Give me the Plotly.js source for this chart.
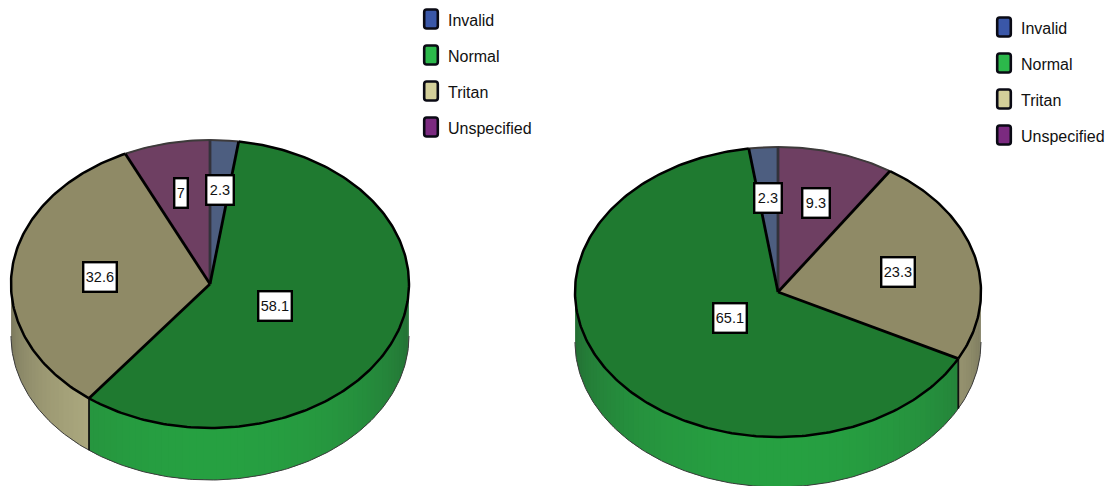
<!DOCTYPE html>
<html>
<head>
<meta charset="utf-8">
<script src="https://cdn.plot.ly/plotly-3.0.1.min.js"></script>
<style>html,body{margin:0;padding:0;background:#fff}#chart{width:1112px;height:486px}</style>
</head>
<body>
<div id="chart"></div>
<script>
// Category data
const categories = ['Invalid', 'Normal', 'Tritan', 'Unspecified'];
const leftValues = [2.3, 58.1, 32.6, 7];
const rightValues = [2.3, 65.1, 23.3, 9.3];
const valueLabels = {left: ['2.3', '58.1', '32.6', '7'], right: ['2.3', '65.1', '23.3', '9.3']};

// Palette
const swatchColors = [[58, 87, 168], [44, 184, 75], [211, 207, 154], [123, 42, 128]];
const faceColors = ['#4d5e80', '#1f7a30', '#8f8a66', '#6e3f62'];

// Tilted-disc geometry, in page pixels
const leftDisc = {cx: 210, cy: 284, rx: 199, ry: 144, depth: 52, dir: 1};
const rightDisc = {cx: 778, cy: 292, rx: 203, ry: 145, depth: 50, dir: -1};
const leftLegend = {x: 423, y: 19};
const rightLegend = {x: 996, y: 27};
const legendStep = 36;

const traces = [];
const shapes = [];
const annotations = [];
const font = 'Liberation Sans, Arial, sans-serif';

function rim(d, deg, drop) {
  const a = deg * Math.PI / 180;
  return [d.cx + d.rx * Math.sin(a), d.cy - d.ry * Math.cos(a) + (drop || 0)];
}

function arc(d, from, to, drop) {
  const n = Math.max(2, Math.ceil(Math.abs(to - from)));
  const pts = [];
  for (let i = 0; i <= n; i++) pts.push(rim(d, from + (to - from) * i / n, drop));
  return pts;
}

function addPath(pts, style) {
  traces.push(Object.assign({
    x: pts.map(p => p[0]), y: pts.map(p => p[1]),
    type: 'scatter', mode: 'lines', hoverinfo: 'skip', showlegend: false
  }, style));
}

// Side colour darkens towards the silhouette edges of the disc
function wallColor(cat, deg) {
  const c = Math.max(0, -Math.cos(deg * Math.PI / 180));
  const shade = 0.55 + 0.32 * Math.pow(c, 0.8);
  const grey = (1 - c) * 0.12;
  const rgb = swatchColors[cat].map(v => Math.round(v * shade * (1 - grey) + 110 * grey));
  return 'rgb(' + rgb.join(',') + ')';
}

function drawDisc(d, values, labels) {
  // Slice spans, measured in degrees from twelve o'clock, in screen-clockwise terms
  let cum = 0;
  const spans = values.map(v => {
    const a = cum * 3.6 * d.dir;
    cum += v;
    const b = cum * 3.6 * d.dir;
    return {from: a, to: b};
  });
  const norm = v => ((v % 360) + 360) % 360;

  // Side wall: narrow overlapping bands over the front half of the disc
  const step = 2;
  spans.forEach((s, cat) => {
    const lo = norm(Math.min(s.from, s.to));
    const hi = lo + Math.abs(s.to - s.from);
    const start = Math.max(lo, 90);
    const end = Math.min(hi, 270);
    for (let t = start; t < end; t += step) {
      const t2 = Math.min(t + step * 1.6, end);
      const top = arc(d, t, t2, 0);
      const bottom = arc(d, t2, t, d.depth);
      const col = wallColor(cat, (t + t2) / 2);
      addPath(top.concat(bottom, [top[0]]), {fill: 'toself', fillcolor: col, line: {width: 0}});
    }
  });
  addPath(arc(d, 90, 270, d.depth), {line: {color: '#3c3c3c', width: 1}});

  // Seams where a slice boundary crosses the front of the wall
  spans.forEach(s => {
    const t = norm(s.from);
    if (t > 90 && t < 270) {
      addPath([rim(d, t, 0), rim(d, t, d.depth)], {line: {color: '#111', width: 1.8}});
    }
  });

  // Top face
  spans.forEach((s, cat) => {
    const pts = [[d.cx, d.cy]].concat(arc(d, s.from, s.to, 0), [[d.cx, d.cy]]);
    addPath(pts, {fill: 'toself', fillcolor: faceColors[cat], line: {color: faceColors[cat], width: 0.5}});
  });

  // Outlines: the far rim of the two narrow slices reads softer than the rest
  spans.forEach((s, cat) => {
    const soft = cat === 0 || cat === 3;
    addPath(arc(d, s.from, s.to, 0), {line: {color: soft ? '#3d3a3a' : '#000', width: soft ? 2 : 2.5}});
  });
  spans.forEach(s => {
    const atTop = norm(s.from) === 0;
    addPath([[d.cx, d.cy], rim(d, s.from, 0)], {line: {color: atTop ? '#33323a' : '#000', width: 2.8}});
  });

  // Value boxes sit just below each sector's centroid
  spans.forEach((s, cat) => {
    const half = Math.abs(s.to - s.from) / 2 * Math.PI / 180;
    const f = 2 / 3 * Math.sin(half) / half;
    const mid = (s.from + s.to) / 2 * Math.PI / 180;
    const len = labels[cat].length;
    annotations.push({
      x: d.cx + f * d.rx * Math.sin(mid), y: d.cy - f * d.ry * Math.cos(mid) + 2,
      xref: 'x', yref: 'y', text: labels[cat], showarrow: false,
      font: {family: font, size: 14.5, color: '#111'},
      bgcolor: '#fff', bordercolor: '#000', borderwidth: 2.4, borderpad: 0,
      width: len === 1 ? 11 : len === 3 ? 25 : 31, height: 27,
      align: 'center', valign: 'middle', xanchor: 'center', yanchor: 'middle'
    });
  });
}

// Rounded-corner legend key, traced as an SVG path
function keyPath(x0, x1, y0, y1, r) {
  return 'M' + (x0 + r) + ',' + y0 + 'H' + (x1 - r) + 'Q' + x1 + ',' + y0 + ' ' + x1 + ',' + (y0 + r) +
    'V' + (y1 - r) + 'Q' + x1 + ',' + y1 + ' ' + (x1 - r) + ',' + y1 +
    'H' + (x0 + r) + 'Q' + x0 + ',' + y1 + ' ' + x0 + ',' + (y1 - r) +
    'V' + (y0 + r) + 'Q' + x0 + ',' + y0 + ' ' + (x0 + r) + ',' + y0 + 'Z';
}

function drawLegend(pos) {
  categories.forEach((name, i) => {
    const y = pos.y + i * legendStep;
    shapes.push({
      type: 'path', xref: 'x', yref: 'y', layer: 'above',
      path: keyPath(pos.x + 1.2, pos.x + 14.8, y - 9.5, y + 9.5, 2.5),
      fillcolor: 'rgb(' + swatchColors[i].join(',') + ')',
      line: {color: '#0a0a14', width: 2.6}
    });
    annotations.push({
      x: pos.x + 23, y: y + 1, xref: 'x', yref: 'y', text: name, showarrow: false,
      xanchor: 'left', yanchor: 'middle',
      font: {family: font, size: 16, color: '#111'}
    });
  });
}

drawDisc(leftDisc, leftValues, valueLabels.left);
drawDisc(rightDisc, rightValues, valueLabels.right);
drawLegend(leftLegend);
drawLegend(rightLegend);

Plotly.newPlot('chart', traces, {
  width: 1112, height: 486,
  margin: {l: 0, r: 0, t: 0, b: 0},
  paper_bgcolor: '#fff', plot_bgcolor: '#fff',
  showlegend: false,
  xaxis: {range: [0, 1112], visible: false, fixedrange: true},
  yaxis: {range: [486, 0], visible: false, fixedrange: true},
  shapes: shapes,
  annotations: annotations
}, {displayModeBar: false, staticPlot: true});
</script>
</body>
</html>
